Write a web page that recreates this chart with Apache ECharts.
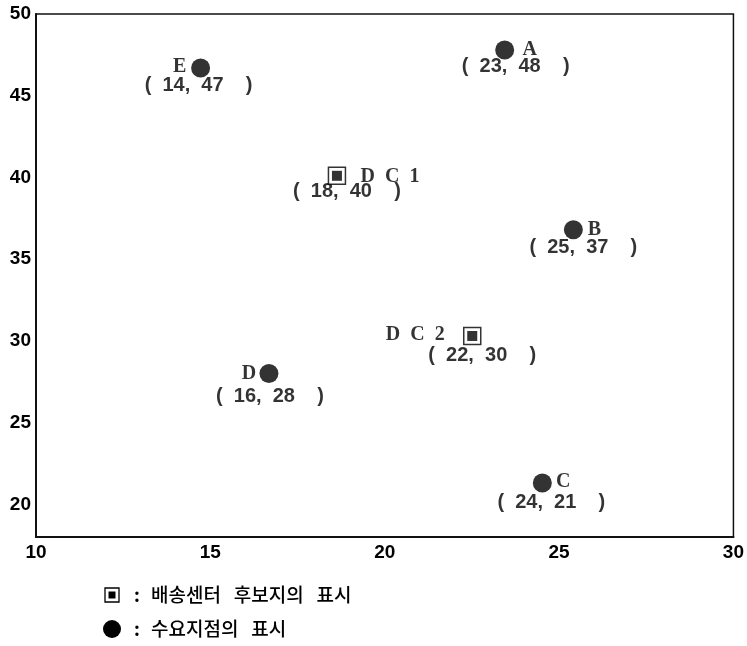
<!DOCTYPE html>
<html>
<head>
<meta charset="utf-8">
<script src="https://cdn.jsdelivr.net/npm/echarts@6/dist/echarts.min.js"></script>
<style>
  html, body { margin: 0; padding: 0; background: #fff; }
  #chart { width: 747px; height: 646px; }
</style>
</head>
<body>
<div id="chart"></div>
<script>
// ---- data ----
const demandNames = ['A', 'B', 'C', 'D', 'E'];
const demandX = [23.44, 25.41, 24.52, 16.68, 14.72];
const demandY = [47.8, 36.8, 21.3, 28.0, 46.7];
const demandLabelX = [23, 25, 24, 16, 14];
const demandLabelY = [48, 37, 21, 28, 47];

const dcNames = ['D C 1', 'D C 2'];
const dcX = [18.63, 22.51];
const dcY = [40.1, 30.3];
const dcLabelX = [18, 22];
const dcLabelY = [40, 30];

const xTicks = [10, 15, 20, 25, 30];
const yTicks = [20, 25, 30, 35, 40, 45, 50];

const legendTexts = ['배송센터   후보지의   표시', '수요지점의   표시'];

// ---- layout (label offsets in px, not data) ----
const demandNameOffset = [[25, 0], [21, 0], [21, -1], [-20, 0], [-21, -1]];
const demandCoordOffset = [[11, 17], [10, 18], [9, 19], [1, 23], [-2, 18]];
const dcNameOffset = [[53, 1], [-57, -1]];
const dcCoordOffset = [[10, 16], [10, 20]];

const serif = '"Liberation Serif", "DejaVu Serif", serif';
const sans = '"Liberation Sans", Arial, sans-serif';
const kr = '"Noto Sans CJK KR", sans-serif';

function pts(xs, ys) { return xs.map((x, i) => [x, ys[i]]); }
function coordText(x, y) { return '(  ' + x + ',  ' + y + '    )'; }

const demandData = pts(demandX, demandY).map((v, i) => ({
  value: v, name: demandNames[i], label: { offset: demandNameOffset[i] }
}));
const demandCoordData = pts(demandX, demandY).map((v, i) => ({
  value: v, name: coordText(demandLabelX[i], demandLabelY[i]),
  label: { offset: demandCoordOffset[i] }
}));
const dcData = pts(dcX, dcY).map((v, i) => ({
  value: v, name: dcNames[i], label: { offset: dcNameOffset[i] }
}));
const dcCoordData = pts(dcX, dcY).map((v, i) => ({
  value: v, name: coordText(dcLabelX[i], dcLabelY[i]),
  label: { offset: dcCoordOffset[i] }
}));

const nameLabel = {
  show: true, position: 'inside', formatter: p => p.name.replace(/ /g, '  '),
  color: '#000', fontFamily: serif, fontSize: 20, fontWeight: 'bold',
  align: 'center', verticalAlign: 'middle'
};
const coordLabel = {
  show: true, position: 'inside', formatter: p => p.name,
  color: '#000', fontFamily: sans, fontSize: 20, fontWeight: 'bold',
  align: 'center', verticalAlign: 'middle'
};

const chart = echarts.init(document.getElementById('chart'), null, { renderer: 'canvas' });
chart.setOption({
  animation: false,
  backgroundColor: '#fff',
  grid: {
    left: 36, top: 14, right: 10, bottom: 109,
    show: true, borderColor: '#111', borderWidth: 1.5, containLabel: false
  },
  xAxis: {
    type: 'value', min: xTicks[0], max: xTicks[xTicks.length - 1], interval: 5,
    axisLine: { show: true, onZero: false, lineStyle: { color: '#111', width: 2 } },
    axisTick: { show: false },
    splitLine: { show: false },
    axisLabel: {
      margin: 6, color: '#000', fontFamily: sans, fontSize: 19, fontWeight: 'bold',
      showMinLabel: true, showMaxLabel: true
    }
  },
  yAxis: {
    type: 'value', min: 18, max: yTicks[yTicks.length - 1], interval: 1,
    axisLine: { show: true, onZero: false, lineStyle: { color: '#111', width: 2 } },
    axisTick: { show: false },
    splitLine: { show: false },
    axisLabel: {
      margin: 5, color: '#000', fontFamily: sans, fontSize: 19, fontWeight: 'bold',
      formatter: v => (yTicks.indexOf(v) >= 0 ? String(v) : '')
    }
  },
  series: [
    {
      type: 'scatter', name: 'demand', symbol: 'circle', symbolSize: 19,
      itemStyle: { color: '#000' }, label: nameLabel, data: demandData, z: 3
    },
    {
      type: 'scatter', name: 'demandCoord', symbol: 'circle', symbolSize: 1,
      itemStyle: { color: 'rgba(0,0,0,0)' }, label: coordLabel, data: demandCoordData, z: 2,
      silent: true
    },
    {
      type: 'scatter', name: 'dcOuter', symbol: 'rect', symbolSize: 17,
      itemStyle: { color: '#fff', borderColor: '#000', borderWidth: 1.5 },
      label: nameLabel, data: dcData, z: 3
    },
    {
      type: 'scatter', name: 'dcInner', symbol: 'rect', symbolSize: 10,
      itemStyle: { color: '#000' }, data: pts(dcX, dcY), z: 4, silent: true
    },
    {
      type: 'scatter', name: 'dcCoord', symbol: 'circle', symbolSize: 1,
      itemStyle: { color: 'rgba(0,0,0,0)' }, label: coordLabel, data: dcCoordData, z: 2,
      silent: true
    }
  ],
  graphic: [
    { type: 'rect', shape: { x: 105, y: 588, width: 14, height: 14 },
      style: { fill: '#fff', stroke: '#000', lineWidth: 1.3 } },
    { type: 'rect', shape: { x: 108.5, y: 591.5, width: 7, height: 7 },
      style: { fill: '#000' } },
    { type: 'text', x: 134, y: 595,
      style: { text: ':', fill: '#000', font: 'bold 18px ' + kr, verticalAlign: 'middle' } },
    { type: 'text', x: 151, y: 595,
      style: { text: legendTexts[0], fill: '#000', font: '500 19px ' + kr, verticalAlign: 'middle' } },
    { type: 'circle', shape: { cx: 112, cy: 629, r: 9 }, style: { fill: '#000' } },
    { type: 'text', x: 134, y: 629,
      style: { text: ':', fill: '#000', font: 'bold 18px ' + kr, verticalAlign: 'middle' } },
    { type: 'text', x: 151, y: 629,
      style: { text: legendTexts[1], fill: '#000', font: '500 19px ' + kr, verticalAlign: 'middle' } }
  ]
});
</script>
</body>
</html>
